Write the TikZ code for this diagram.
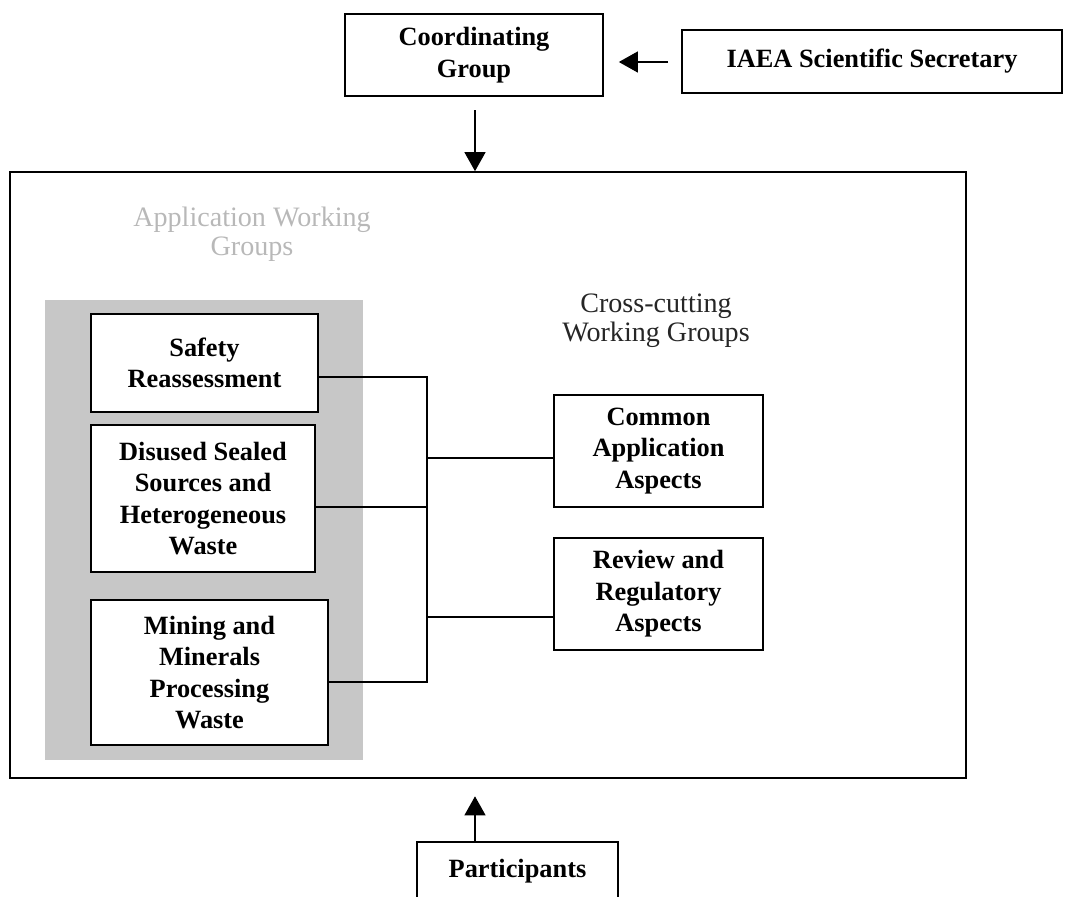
\documentclass[tikz,border=0pt]{standalone}
\usepackage{fontspec}
\setmainfont{Liberation Serif}
\usepackage{tikz}
\usetikzlibrary{arrows.meta,positioning}

\begin{document}
\begin{tikzpicture}[
  x=0.02cm, y=-0.02cm,
  grp/.style={draw,line width=1pt,align=center,inner sep=2pt,
    font=\fontsize{15}{18}\selectfont\bfseries},
  lbl/.style={align=center,font=\fontsize{16}{16.5}\selectfont},
  arr/.style={-{Triangle[length=0.38cm,width=0.42cm]},line width=0.7pt}
]
\useasboundingbox (0,0) rectangle (1075,896);
\node[draw,line width=1pt,minimum width=19.12cm,minimum height=12.12cm] (frame) at (488,475) {};
\node[fill=black!22,minimum width=6.36cm,minimum height=9.2cm] (shade) at (204,530) {};
\node[grp,minimum width=5.16cm,minimum height=1.64cm] (cg) at (474,55) {Coordinating\\Group};
\node[grp,minimum width=7.6cm,minimum height=1.26cm] (iaea) at (872,61.5) {IAEA Scientific Secretary};
\node[lbl,text=black!28] (awg) at (252,234) {Application Working\\Groups};
\node[lbl,text=black!85] (cwg) at (656,321) {Cross-cutting\\Working Groups};
\node[grp,fill=white,minimum width=4.54cm,minimum height=1.96cm] (sr) at (204.5,363) {Safety\\Reassessment};
\node[grp,fill=white,minimum width=4.48cm,minimum height=2.94cm] (ds) at (203,498.5) {Disused Sealed\\Sources and\\Heterogeneous\\Waste};
\node[grp,fill=white,minimum width=4.74cm,minimum height=2.9cm] (mm) at (209.5,672.5) {Mining and\\Minerals\\Processing\\Waste};
\node[grp,minimum width=4.18cm,minimum height=2.24cm] (ca) at (658.5,451) {Common\\Application\\Aspects};
\node[grp,minimum width=4.18cm,minimum height=2.24cm] (rr) at (658.5,594) {Review and\\Regulatory\\Aspects};
\node[grp,minimum width=4.02cm,minimum height=1.16cm] (pt) at (517.5,871) {Participants};
\coordinate (b1) at (427,377);
\coordinate (b2) at (427,507);
\coordinate (b3) at (427,682);
\coordinate (b4) at (427,458);
\coordinate (b5) at (427,617);
\coordinate (top) at (475,110);
\coordinate (side) at (668,62);
\draw[line width=1pt] (sr.east |- b1) -- (b1) -- (b3) -- (mm.east |- b3);
\draw[line width=1pt] (ds.east |- b2) -- (b2);
\draw[line width=1pt] (b4) -- (ca.west |- b4);
\draw[line width=1pt] (b5) -- (rr.west |- b5);
\draw[arr] (side) -- ([xshift=0.3cm]cg.east |- side);
\draw[arr] (top) -- (top |- frame.north);
\draw[arr] (pt.north -| top) -- ([yshift=-0.35cm]frame.south -| top);
\end{tikzpicture}
\end{document}
